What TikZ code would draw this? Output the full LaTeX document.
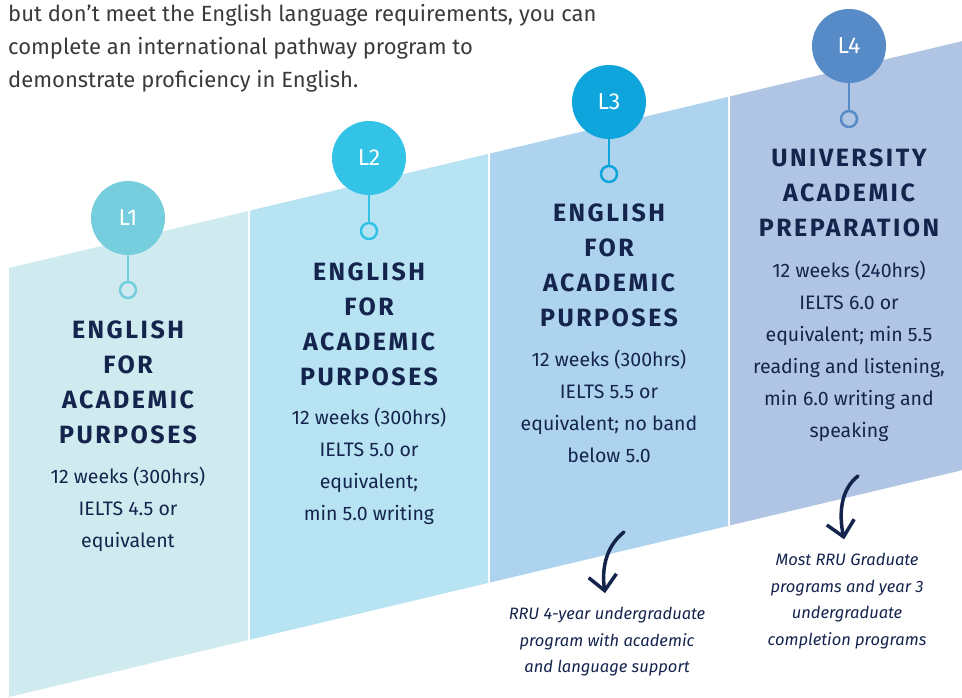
\documentclass[tikz,border=0pt]{standalone}
\usepackage{fontspec}
\setmainfont{Fira Sans}
\newfontfamily\headfont[LetterSpace=10]{Fira Sans}
\usetikzlibrary{arrows.meta,positioning}
\definecolor{navy}{HTML}{14244D}
\definecolor{inkgray}{HTML}{3A3A3A}
\definecolor{panelA}{HTML}{CFEBEF}
\definecolor{panelB}{HTML}{B7E3F3}
\definecolor{panelC}{HTML}{AED3EE}
\definecolor{panelD}{HTML}{B0C4E3}
\definecolor{dotA}{HTML}{76CDDD}
\definecolor{dotB}{HTML}{33C3E6}
\definecolor{dotC}{HTML}{0DA5DC}
\definecolor{dotD}{HTML}{568BC7}

\begin{document}
\begin{tikzpicture}[
    x=1pt, y=-1pt,
    level/.style={circle, minimum size=74pt, inner sep=0pt, text=white, font=\fontsize{23}{23}\selectfont},
    pin/.style={circle, draw, minimum size=16pt, inner sep=0pt, line width=2.5pt},
    stem/.style={line width=2.5pt},
    title/.style={anchor=north, inner sep=0pt, align=center, text=navy, font=\headfont\bfseries\fontsize{25}{35}\selectfont},
    detail/.style={anchor=north, inner sep=0pt, align=center, text=navy, font=\fontsize{19.5}{32}\selectfont},
    outcome/.style={anchor=north, inner sep=0pt, align=center, text=navy, font=\itshape\fontsize{16.5}{26.5}\selectfont},
    flow/.style={navy, line width=3.5pt, line cap=round, shorten >=14pt, -{Straight Barb[length=15pt,width=28pt]}}
]
\useasboundingbox (0,0) rectangle (962,698);

% panels
\fill[panelA] (9,268) -- (248,211.1) -- (248,640.1) -- (9,697) -- cycle;
\fill[panelB] (250,210.6) -- (488,154) -- (488,583) -- (250,639.6) -- cycle;
\fill[panelC] (490,153.5) -- (728,96.9) -- (728,525.9) -- (490,582.5) -- cycle;
\fill[panelD] (730,96.4) -- (962,41.2) -- (962,470.2) -- (730,525.4) -- cycle;

% intro text
\node[anchor=north west, inner sep=0pt, align=left, text=inkgray, font=\fontsize{22}{33}\selectfont] (intro) at (8,4)
    {but don’t meet the English language requirements, you can\\
     complete an international pathway program to\\
     demonstrate proficiency in English.};

% level markers
\node[level, fill=dotA] (l1) at (128,218) {L1};
\node[level, fill=dotB] (l2) at (369,158) {L2};
\node[level, fill=dotC] (l3) at (609,102) {L3};
\node[level, fill=dotD] (l4) at (849,46) {L4};

\node[pin, draw=dotA, fill=panelA] (l1pin) at (128,290) {};
\node[pin, draw=dotB, fill=panelB] (l2pin) at (369,231) {};
\node[pin, draw=dotC, fill=panelC] (l3pin) at (609,174) {};
\node[pin, draw=dotD, fill=panelD] (l4pin) at (849,119) {};

\draw[stem, dotA] (l1) -- (l1pin);
\draw[stem, dotB] (l2) -- (l2pin);
\draw[stem, dotC] (l3) -- (l3pin);
\draw[stem, dotD] (l4) -- (l4pin);

% titles
\node[title] (l1title) at (128,321) {ENGLISH\\FOR\\ACADEMIC\\PURPOSES};
\node[title] (l2title) at (369,262.5) {ENGLISH\\FOR\\ACADEMIC\\PURPOSES};
\node[title] (l3title) at (609,204) {ENGLISH\\FOR\\ACADEMIC\\PURPOSES};
\node[title] (l4title) at (849,149) {UNIVERSITY\\ACADEMIC\\PREPARATION};

% details
\node[detail] (l1info) at (128,467) {12 weeks (300hrs)\\IELTS 4.5 or\\equivalent};
\node[detail] (l2info) at (369,408) {12 weeks (300hrs)\\IELTS 5.0 or\\equivalent;\\min 5.0 writing};
\node[detail] (l3info) at (609,350) {12 weeks (300hrs)\\IELTS 5.5 or\\equivalent; no band\\below 5.0};
\node[detail] (l4info) at (849,261) {12 weeks (240hrs)\\IELTS 6.0 or\\equivalent; min 5.5\\reading and listening,\\min 6.0 writing and\\speaking};

% outcomes
\node[outcome] (out3) at (607,607) {RRU 4-year undergraduate\\program with academic\\and language support};
\node[outcome] (out4) at (847,553) {Most RRU Graduate\\programs and year 3\\undergraduate\\completion programs};

\coordinate (c3) at (624,532);
\coordinate (c4) at (858,476);
\draw[flow] (c3) .. controls (604,548) and (602,572) .. (out3.north);
\draw[flow] (c4) .. controls (840,490) and (839,515) .. (out4.north);

\end{tikzpicture}
\end{document}
